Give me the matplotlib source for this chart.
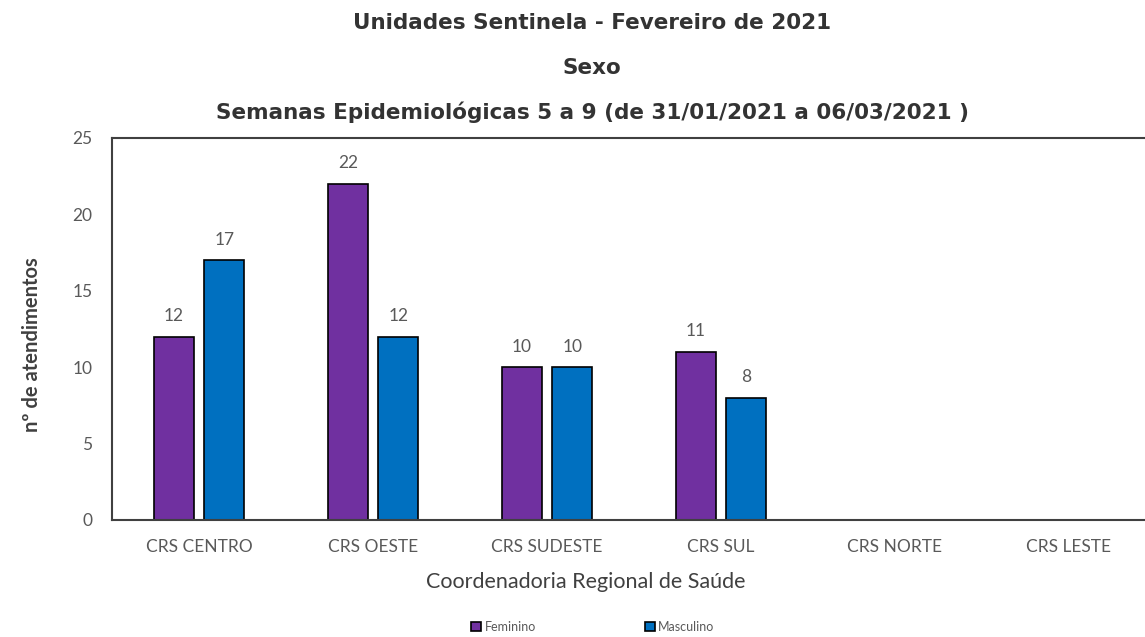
import numpy as np
import matplotlib.pyplot as plt

categorias = ['CRS CENTRO', 'CRS OESTE', 'CRS SUDESTE', 'CRS SUL', 'CRS NORTE', 'CRS LESTE']
feminino = [12, 22, 10, 11, 0, 0]
masculino = [17, 12, 10, 8, 0, 0]

cor_fem = '#7030A0'
cor_masc = '#0070C0'
cinza = '#595959'

fig = plt.figure(figsize=(11.45, 6.37), dpi=100)
# axes runs a bit past the right edge, like the original
ax = fig.add_axes([112 / 1145, 1 - 520 / 637, 1044 / 1145, 382 / 637])

x = np.arange(len(categorias))
w = 0.23
off = 0.145
b1 = ax.bar(x - off, feminino, w, color=cor_fem, edgecolor='black', linewidth=1.2, label='Feminino')
b2 = ax.bar(x + off, masculino, w, color=cor_masc, edgecolor='black', linewidth=1.2, label='Masculino')

for bars, vals in ((b1, feminino), (b2, masculino)):
    for b, v in zip(bars, vals):
        if v > 0:
            ax.annotate(str(v), (b.get_x() + b.get_width() / 2, v), xytext=(0, 9),
                        textcoords='offset points', ha='center', va='bottom',
                        fontsize=12.5, color=cinza, family='Lato')

ax.set_xlim(-0.5, len(categorias) - 0.5)
ax.set_ylim(0, 25)
ax.set_yticks([0, 5, 10, 15, 20, 25])
ax.set_xticks(x)
ax.set_xticklabels(categorias, family='Lato', fontsize=12.5, color=cinza)
for t in ax.get_yticklabels():
    t.set_family('Lato')
    t.set_fontsize(12.5)
    t.set_color(cinza)
ax.tick_params(axis='both', length=0)
ax.tick_params(axis='y', pad=14)
ax.tick_params(axis='x', pad=14)

for s in ax.spines.values():
    s.set_color('#404040')
    s.set_linewidth(1.5)

ax.set_xlabel('Coordenadoria Regional de Saúde', family='Lato', fontsize=15.5,
              color='#404040', labelpad=4)
ax.xaxis.set_label_coords((586 - 112) / 1044, -0.135)
ax.set_ylabel('nº de atendimentos', family='Lato', fontsize=14.5, fontweight='bold',
              color='#404040')
ax.yaxis.set_label_coords(-(112 - 42) / 1044, 0.46)

tx = 592 / 1145
fig.text(tx, 1 - 23 / 637, 'Unidades Sentinela - Fevereiro de 2021', ha='center', va='center',
         fontsize=15.5, fontweight='bold', color='#333333', family='DejaVu Sans')
fig.text(tx, 1 - 68 / 637, 'Sexo', ha='center', va='center',
         fontsize=15.5, fontweight='bold', color='#333333', family='DejaVu Sans')
fig.text(tx, 1 - 112 / 637, 'Semanas Epidemiológicas 5 a 9 (de 31/01/2021 a 06/03/2021 )', ha='center',
         va='center', fontsize=15.5, fontweight='bold', color='#333333', family='DejaVu Sans')

fig.legend(loc='center', bbox_to_anchor=(0.5176, 1 - 627 / 637), ncol=2, frameon=False,
           prop={'family': 'Lato', 'size': 9}, handlelength=0.8, handleheight=0.8,
           columnspacing=8.7, handletextpad=0.3, labelcolor=cinza)

fig.savefig('out.png', dpi=100)
